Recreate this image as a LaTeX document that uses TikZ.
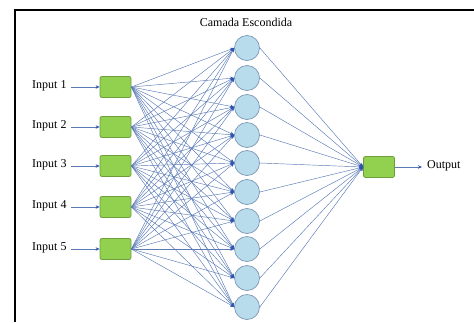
\documentclass[tikz,border=0pt]{standalone}
\usepackage{fontspec}
\setmainfont{Liberation Serif}
\usetikzlibrary{arrows.meta}
\definecolor{boxgreen}{HTML}{92D050}
\definecolor{boxedge}{HTML}{6E9E3A}
\definecolor{cirfill}{HTML}{B8DCEC}
\definecolor{ciredge}{HTML}{7D97B5}
\definecolor{linkc}{HTML}{5A7AB6}
\definecolor{tipc}{HTML}{2F55B0}
\tikzset{
  inbox/.style={draw=boxedge, fill=boxgreen, rounded corners=2pt, minimum width=31pt, minimum height=21pt, line width=0.8pt, inner sep=0pt},
  hid/.style={draw=ciredge, fill=cirfill, circle, minimum size=25pt, inner sep=0pt, line width=0.7pt},
  lbl/.style={font=\fontsize{12}{14}\selectfont, inner sep=0pt},
  link/.style={draw=linkc, line width=0.45pt, -{Stealth[length=4pt,width=3.5pt,color=tipc]}},
}
\begin{document}
\begin{tikzpicture}[x=1pt,y=-1pt]
\useasboundingbox (0,0) rectangle (474,322);
\draw[line width=2pt] (15,322) -- (15,10) -- (474,10);
\node[lbl] (title) at (246,22) {Camada Escondida};
% inputs
\foreach \i/\y in {1/87,2/127,3/166,4/207,5/249}{
  \node[inbox] (in\i) at (115.5,\y) {};
  \node[lbl, anchor=west] (t\i) at (32,\y-1) {Input \i};
  \draw[link] (71,\y) -- (in\i.west);
}
% hidden
\foreach \j/\y in {1/48,2/78,3/107,4/135,5/163,6/192,7/221,8/249,9/278,10/307}{
  \node[hid] (h\j) at (247,\y) {};
}
\node[inbox] (out) at (379,167) {};
\coordinate (oend) at (422,167);
\node[lbl, anchor=west] (otext) at (427,166) {Output};
\draw[link] (out.east) -- (oend);
\foreach \i in {1,...,5}{
  \foreach \j in {1,...,10}{
    \draw[link] (in\i.east) -- (h\j.west);
  }
}
\foreach \j in {1,...,10}{
  \draw[link] (h\j.east) -- (out.west);
}
\end{tikzpicture}
\end{document}
